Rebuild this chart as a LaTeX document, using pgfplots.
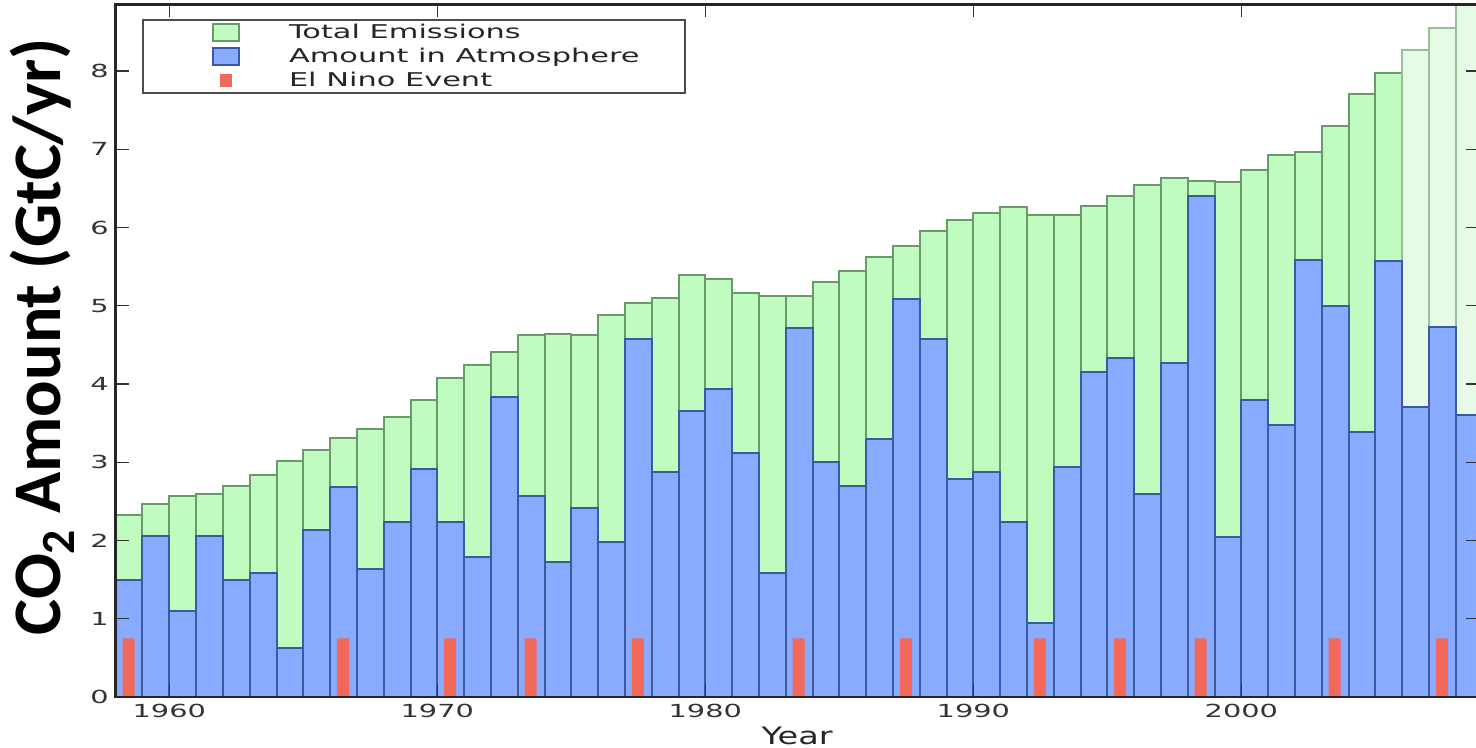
\documentclass[border=0pt]{standalone}
\usepackage{pgfplots}
\pgfplotsset{compat=1.18}
\usepackage{pgfplotstable}
\usepackage{fontspec}
\setmainfont{DejaVu Sans}
\newfontfamily\tickfont[FakeStretch=1.6]{DejaVu Sans}
\newfontfamily\legfont[FakeStretch=1.6]{DejaVu Sans}
\newfontfamily\xlabfont[FakeStretch=1.4]{DejaVu Sans}
\newfontfamily\ylabfont{Carlito}

\definecolor{emisfill}{HTML}{C0FBC0}
\definecolor{emisedge}{HTML}{6A9A6A}
\definecolor{latefill}{HTML}{E6FBE6}
\definecolor{lateedge}{HTML}{98C098}
\definecolor{atmfill}{HTML}{88AAFF}
\definecolor{atmedge}{HTML}{3A5AA0}
\definecolor{ninofill}{HTML}{F2685A}

% total emissions (GtC/yr)
\pgfplotstableread{
year total
1958 2.32
1959 2.46
1960 2.57
1961 2.59
1962 2.70
1963 2.84
1964 3.02
1965 3.16
1966 3.31
1967 3.42
1968 3.58
1969 3.80
1970 4.08
1971 4.24
1972 4.41
1973 4.63
1974 4.64
1975 4.62
1976 4.88
1977 5.03
1978 5.10
1979 5.39
1980 5.34
1981 5.16
1982 5.13
1983 5.12
1984 5.30
1985 5.45
1986 5.62
1987 5.76
1988 5.96
1989 6.10
1990 6.18
1991 6.26
1992 6.16
1993 6.16
1994 6.28
1995 6.40
1996 6.54
1997 6.63
1998 6.59
1999 6.58
2000 6.74
2001 6.93
2002 6.97
2003 7.30
2004 7.70
2005 7.98
}\emis

% most recent years, shown lighter
\pgfplotstableread{
year total
2006 8.27
2007 8.55
2008 8.95
}\emislate

% amount remaining in the atmosphere (GtC/yr)
\pgfplotstableread{
year atmos
1958 1.49
1959 2.06
1960 1.10
1961 2.06
1962 1.50
1963 1.59
1964 0.63
1965 2.14
1966 2.69
1967 1.64
1968 2.23
1969 2.92
1970 2.23
1971 1.79
1972 3.84
1973 2.57
1974 1.72
1975 2.41
1976 1.98
1977 4.57
1978 2.87
1979 3.66
1980 3.93
1981 3.12
1982 1.58
1983 4.71
1984 3.00
1985 2.70
1986 3.30
1987 5.08
1988 4.57
1989 2.78
1990 2.87
1991 2.23
1992 0.94
1993 2.94
1994 4.15
1995 4.33
1996 2.60
1997 4.27
1998 6.40
1999 2.05
2000 3.80
2001 3.48
2002 5.59
2003 5.00
2004 3.39
2005 5.57
2006 3.70
2007 4.73
2008 3.61
}\atmos

% El Nino years
\pgfplotstableread{
year mark
1958 0.75
1966 0.75
1970 0.75
1973 0.75
1977 0.75
1983 0.75
1987 0.75
1992 0.75
1995 0.75
1998 0.75
2003 0.75
2007 0.75
}\nino

\pgfplotsset{
  boxlegend/.style={legend image code/.code={
    \path[draw=none, fill=none] (-12.8pt,-5.95pt) rectangle (37.7pt,5.95pt);
    \draw[##1] (0pt,-4.25pt) rectangle (13.3pt,4.25pt);}},
  smalllegend/.style={legend image code/.code={
    \path[draw=none, fill=none] (-12.8pt,-5.95pt) rectangle (37.7pt,5.95pt);
    \fill[##1] (3.65pt,-3.25pt) rectangle (9.65pt,3.25pt);}},
}

\begin{document}
\begin{tikzpicture}
\path[use as bounding box] (-57.85pt,-25.5pt) rectangle (680.15pt,348.5pt);
\clip (-57.85pt,-25.5pt) rectangle (680.15pt,348.5pt);
\begin{axis}[
  at={(0pt,0pt)}, anchor=south west,
  scale only axis, width=681.4pt, height=346.25pt,
  xmin=1958, xmax=2008.85, ymin=0, ymax=8.85,
  xtick={1960,1970,1980,1990,2000}, ytick={0,1,...,8},
  /pgf/number format/assume math mode=true,
  x tick label style={/pgf/number format/set thousands separator={}},
  tick label style={font=\tickfont\fontsize{9}{10}\selectfont, text=black!80},
  axis line style={black!85, line width=1.2pt},
  major tick length=6.5pt,
  tick style={black!80, line width=0.6pt},
  axis on top,
  xlabel={Year},
  xlabel style={font=\xlabfont\fontsize{12}{14}\selectfont, text=black!85,
    at={(axis description cs:0.5,-0.0693)}, anchor=base},
  ylabel={CO\textsubscript{2} Amount (GtC/yr)},
  ylabel style={font=\ylabfont\bfseries\fontsize{34}{40}\selectfont,
    at={(axis description cs:-0.054,0.52)}, anchor=center},
  legend style={at={(axis description cs:0.0191,0.9786)}, anchor=north west,
    draw=black!70, line width=0.9pt, fill=white,
    inner xsep=22.2pt, inner ysep=0.35pt,
    font=\legfont\fontsize{9.5}{11}\selectfont,
    nodes={inner sep=0.5pt, text=black!85},
    cells={anchor=west}, row sep=0pt,
    /tikz/every even column/.append style={column sep=0pt}},
]
\addplot[ybar, bar width=1, bar shift=0.5, fill=emisfill, draw=emisedge,
  line width=1pt, boxlegend] table[x=year, y=total] {\emis};
\addlegendentry{Total Emissions}
\addplot[ybar, bar width=1, bar shift=0.5, fill=latefill, draw=lateedge,
  line width=1pt, forget plot] table[x=year, y=total] {\emislate};
\addplot[ybar, bar width=1, bar shift=0.5, fill=atmfill, draw=atmedge,
  line width=1pt, boxlegend] table[x=year, y=atmos] {\atmos};
\addlegendentry{Amount in Atmosphere}
\addplot[ybar, bar width=0.45, bar shift=0.48, fill=ninofill, draw=none,
  smalllegend] table[x=year, y=mark] {\nino};
\addlegendentry{El Nino Event}
\end{axis}
\end{tikzpicture}
\end{document}
